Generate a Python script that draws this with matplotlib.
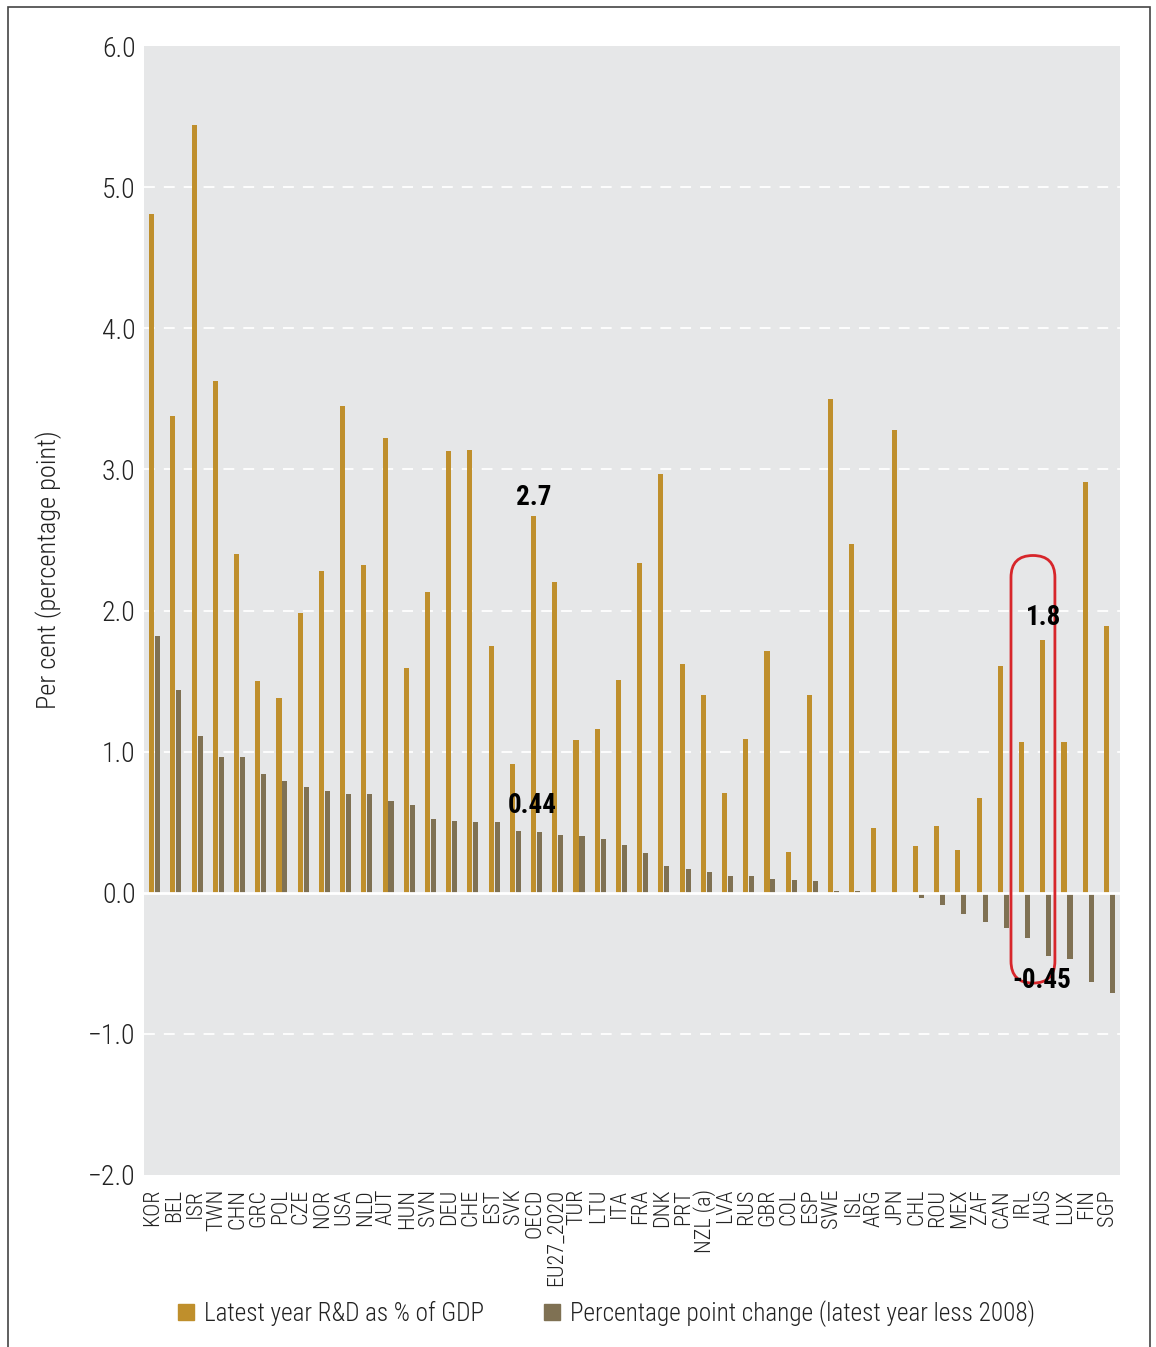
import matplotlib
matplotlib.use("Agg")
import matplotlib.pyplot as plt
import numpy as np
from matplotlib.patches import FancyBboxPatch, Rectangle
from matplotlib.lines import Line2D

plt.rcParams['font.family'] = ['Roboto Condensed', 'Liberation Sans Narrow', 'Roboto', 'DejaVu Sans']

countries = ["KOR", "BEL", "ISR", "TWN", "CHN", "GRC", "POL", "CZE", "NOR", "USA",
             "NLD", "AUT", "HUN", "SVN", "DEU", "CHE", "EST", "SVK", "OECD", "EU27_2020",
             "TUR", "LTU", "ITA", "FRA", "DNK", "PRT", "NZL (a)", "LVA", "RUS", "GBR",
             "COL", "ESP", "SWE", "ISL", "ARG", "JPN", "CHL", "ROU", "MEX", "ZAF",
             "CAN", "IRL", "AUS", "LUX", "FIN", "SGP"]

rd_latest = [4.81, 3.38, 5.44, 3.63, 2.40, 1.50, 1.38, 1.98, 2.28, 3.45,
             2.32, 3.22, 1.59, 2.13, 3.13, 3.14, 1.75, 0.91, 2.67, 2.20,
             1.08, 1.16, 1.51, 2.34, 2.97, 1.62, 1.40, 0.71, 1.09, 1.71,
             0.29, 1.40, 3.50, 2.47, 0.46, 3.28, 0.33, 0.47, 0.30, 0.67,
             1.61, 1.07, 1.79, 1.07, 2.91, 1.89]

pp_change = [1.82, 1.44, 1.11, 0.96, 0.96, 0.84, 0.79, 0.75, 0.72, 0.70,
             0.70, 0.65, 0.62, 0.52, 0.51, 0.50, 0.50, 0.44, 0.43, 0.41,
             0.40, 0.38, 0.34, 0.28, 0.19, 0.17, 0.15, 0.12, 0.12, 0.10,
             0.09, 0.08, 0.01, 0.01, -0.01, -0.01, -0.04, -0.09, -0.15, -0.21,
             -0.25, -0.32, -0.45, -0.47, -0.63, -0.71]

gold = "#BF8F2C"
brown = "#7F7153"
bg = "#E6E7E8"
txt = "#222222"

fig = plt.figure(figsize=(11.56, 13.47), dpi=100)
ax = fig.add_axes([0.1246, 0.1277, 0.8443, 0.8381])
ax.set_facecolor(bg)

x = np.arange(len(countries))
w = 0.24
ax.bar(x - 0.14, rd_latest, width=w, color=gold, zorder=3)
ax.bar(x + 0.14, pp_change, width=w, color=brown, zorder=3)

ax.set_ylim(-2.0, 6.0)
ax.set_xlim(-0.5, len(countries) - 0.5)
yt = np.arange(-2, 7, 1)
ax.set_yticks(yt)
ax.set_yticklabels([f"{v:.1f}".replace("-", "\u2212") for v in yt],
                   fontsize=20, color=txt, fontweight="light")
ax.set_xticks(x - 0.08)
ax.set_xticklabels(countries, rotation=90, fontsize=16, color=txt, fontweight="light")
ax.tick_params(axis='y', length=0, pad=6)
ax.tick_params(axis='x', length=0, pad=10)
for s in ax.spines.values():
    s.set_visible(False)

for v in [-1, 1, 2, 3, 4, 5]:
    ax.axhline(v, color="white", lw=1.3, ls=(0, (6, 5)), zorder=1)
ax.axhline(0, color="white", lw=2, zorder=4)

ax.set_ylabel("Per cent (percentage point)", fontsize=19, color=txt, fontweight="light")
ax.yaxis.set_label_coords(-0.084, 0.536)

# annotations
i_oecd = countries.index("OECD")
i_aus = countries.index("AUS")
bold = dict(fontsize=19.5, fontweight="bold", ha="center", va="center", zorder=6)
ax.text(i_oecd - 0.14, 2.80, "2.7", **bold)
ax.text(i_oecd - 0.2, 0.62, "0.44", **bold)
ax.text(i_aus - 0.1, 1.95, "1.8", **bold)
ax.text(i_aus - 0.2, -0.62, "-0.45", **bold)

# highlight box around IRL / AUS
bx0, bx1 = 40.36, 42.43
by0, by1 = -0.64, 2.39
box = FancyBboxPatch((bx0, by0), bx1 - bx0, by1 - by0,
                     boxstyle=f"round,pad=0,rounding_size={(bx1 - bx0) / 2}",
                     mutation_aspect=0.1505, fill=False, ec="#D7262B", lw=2, zorder=5)
ax.add_patch(box)

handles = [Line2D([], [], marker="s", ls="", color=gold, markersize=11),
           Line2D([], [], marker="s", ls="", color=brown, markersize=11)]
fig.legend(handles, ["Latest year R&D as % of GDP",
                     "Percentage point change (latest year less 2008)"],
           loc="center", bbox_to_anchor=(0.524, 0.025), ncol=2, frameon=False,
           prop=dict(size=18.2, weight="light"), handlelength=0.8, handletextpad=0.3,
           columnspacing=2.3, labelcolor=txt)

fig.patches.append(Rectangle((8 / 1156, -0.05), (1150 - 8) / 1156, 1.05 - 7 / 1347,
                             transform=fig.transFigure, fill=False, ec="#444444", lw=1.2))

fig.savefig("out.png", dpi=100)
